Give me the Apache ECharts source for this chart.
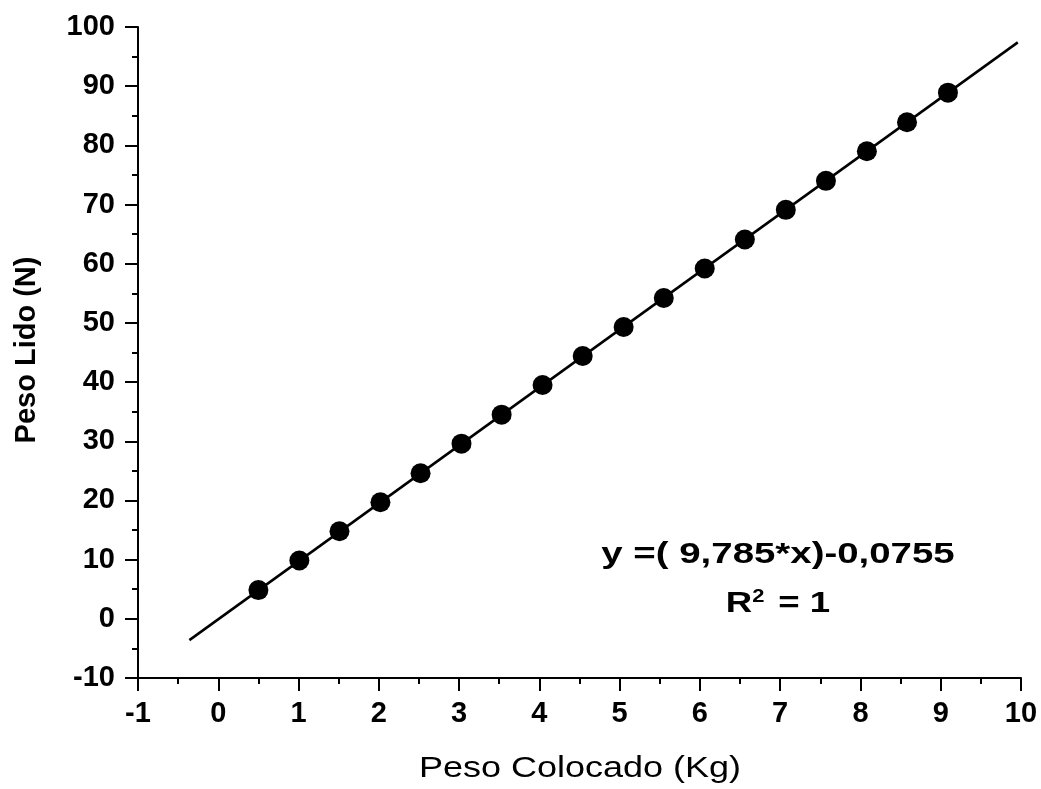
<!DOCTYPE html>
<html>
<head>
<meta charset="utf-8">
<script src="https://cdn.jsdelivr.net/npm/echarts@6/dist/echarts.min.js"></script>
<style>
html,body{margin:0;padding:0;background:#fff;}
#chart{width:1041px;height:789px;}
</style>
</head>
<body>
<div id="chart"></div>
<script>
// Data
const pesoColocado = [0.50, 1.01, 1.51, 2.02, 2.52, 3.03, 3.53, 4.04, 4.54, 5.05, 5.55, 6.06, 6.56, 7.07, 7.57, 8.08, 8.58, 9.09];
const pesoLido     = [4.85, 9.85, 14.8, 19.7, 24.6, 29.6, 34.5, 39.5, 44.4, 49.3, 54.2, 59.2, 64.1, 69.1, 74.0, 79.0, 83.9, 88.9];
const fitX = [-0.36, 9.96];
const fitY = [-3.6, 97.4];
const xTicks = {min: -1, max: 10, interval: 1};
const yTicks = {min: -10, max: 100, interval: 10};
const xTitle = 'Peso Colocado (Kg)';
const yTitle = 'Peso Lido (N)';
const eqLine1 = 'y =( 9,785*x)-0,0755';

const FONT = 'Arial, "Liberation Sans", sans-serif';
const chart = echarts.init(document.getElementById('chart'), null, {renderer: 'canvas'});

const axisCommon = {
  type: 'value',
  axisLine: {show: true, onZero: false, lineStyle: {color: '#000', width: 2}},
  axisTick: {show: true, inside: false, length: 13, lineStyle: {color: '#000', width: 2}},
  minorTick: {show: true, splitNumber: 2, length: 6, lineStyle: {color: '#000', width: 2}},
  splitLine: {show: false},
  minorSplitLine: {show: false},
  axisLabel: {color: '#000', fontFamily: FONT, fontWeight: 'bold', fontSize: 29}
};

chart.setOption({
  animation: false,
  backgroundColor: '#fff',
  grid: {left: 138, top: 27, width: 883, height: 651, containLabel: false},
  xAxis: Object.assign({}, axisCommon, {
    min: xTicks.min, max: xTicks.max, interval: xTicks.interval,
    axisLabel: Object.assign({}, axisCommon.axisLabel, {margin: 21, showMaxLabel: true, showMinLabel: true})
  }),
  yAxis: Object.assign({}, axisCommon, {
    min: yTicks.min, max: yTicks.max, interval: yTicks.interval,
    axisLabel: Object.assign({}, axisCommon.axisLabel, {margin: 23})
  }),
  graphic: [
    {type: 'text', x: 580, y: 769, scaleX: 1.2, scaleY: 1,
     style: {text: xTitle, font: '30px ' + FONT, fill: '#000', textAlign: 'center', textVerticalAlign: 'middle'}},
    {type: 'text', x: 27, y: 350, rotation: Math.PI / 2,
     style: {text: yTitle, font: 'bold 29px ' + FONT, fill: '#000', textAlign: 'center', textVerticalAlign: 'middle'}},
    {type: 'text', x: 778, y: 555, scaleX: 1.28, scaleY: 1,
     style: {text: eqLine1, font: 'bold 30px ' + FONT, fill: '#000', textAlign: 'center', textVerticalAlign: 'middle'}},
    {type: 'text', x: 778, y: 604, scaleX: 1.22, scaleY: 1,
     style: {text: 'R{sup|2} = 1', font: 'bold 30px ' + FONT, fill: '#000', textAlign: 'center', textVerticalAlign: 'middle',
       rich: {sup: {fontSize: 18, fontWeight: 'bold', fontFamily: FONT, verticalAlign: 'top', padding: [0, 3, 14, 0], fill: '#000'}}}}
  ],
  series: [
    {
      type: 'line',
      data: fitX.map((x, i) => [x, fitY[i]]),
      symbol: 'none',
      lineStyle: {color: '#000', width: 2.5},
      z: 2,
      silent: true
    },
    {
      type: 'scatter',
      data: pesoColocado.map((x, i) => [x, pesoLido[i]]),
      symbol: 'circle',
      symbolSize: 20,
      itemStyle: {color: '#000', opacity: 1},
      z: 3
    }
  ]
});
</script>
</body>
</html>
